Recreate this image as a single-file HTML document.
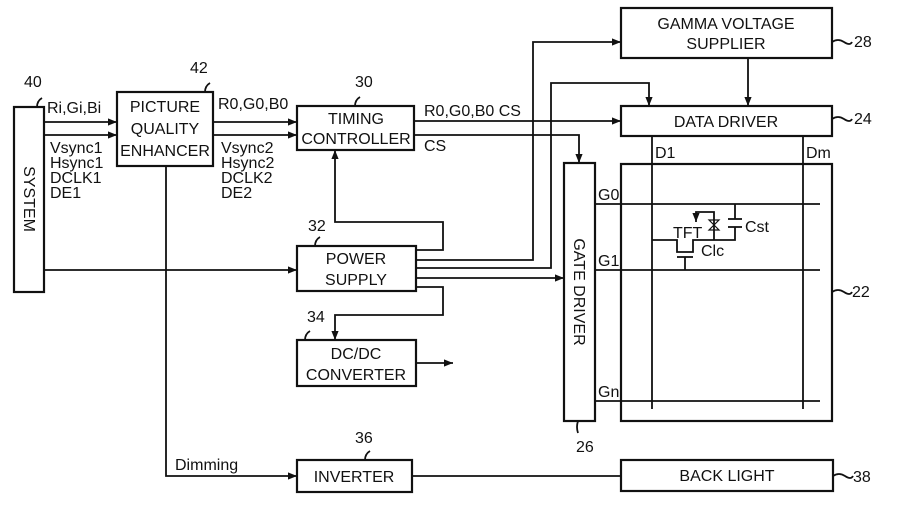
<!DOCTYPE html>
<html><head><meta charset="utf-8"><style>
html,body{margin:0;padding:0;background:#fff;width:907px;height:521px;overflow:hidden}
svg{display:block}
text{font-family:"Liberation Sans",sans-serif;font-size:16px;fill:#111}
</style></head><body>
<svg width="907" height="521" viewBox="0 0 907 521" xmlns="http://www.w3.org/2000/svg">
<defs><marker id="a" viewBox="0 0 10 10" refX="10" refY="5" markerWidth="10" markerHeight="9" markerUnits="userSpaceOnUse" orient="auto"><path d="M0,1 L10,5 L0,9 z" fill="#111"/></marker></defs>
<g fill="none" stroke="#111" stroke-width="2.2">
<rect x="14" y="107" width="30" height="185"/>
<rect x="117" y="92" width="96" height="74"/>
<rect x="297" y="106" width="117" height="44"/>
<rect x="297" y="246" width="119" height="45"/>
<rect x="297" y="340" width="119" height="46"/>
<rect x="297" y="460" width="115" height="32"/>
<rect x="621" y="8" width="211" height="50"/>
<rect x="621" y="106" width="211" height="30"/>
<rect x="564" y="163" width="31" height="258"/>
<rect x="621" y="164" width="211" height="257"/>
<rect x="621" y="460" width="212" height="31"/>
</g>
<g fill="none" stroke="#111" stroke-width="1.8">
<line x1="44" y1="122" x2="117" y2="122" marker-end="url(#a)"/>
<line x1="44" y1="135" x2="117" y2="135" marker-end="url(#a)"/>
<line x1="44" y1="270" x2="297" y2="270" marker-end="url(#a)"/>
<line x1="213" y1="122" x2="297" y2="122" marker-end="url(#a)"/>
<line x1="213" y1="135" x2="297" y2="135" marker-end="url(#a)"/>
<polyline points="166,166 166,476 297,476" marker-end="url(#a)"/>
<line x1="412" y1="476" x2="621" y2="476"/>
<polyline points="416,250 443,250 443,222 335,222 335,150" marker-end="url(#a)"/>
<polyline points="416,260 533,260 533,42 621,42" marker-end="url(#a)"/>
<polyline points="416,268 551,268 551,83 649,83 649,106" marker-end="url(#a)"/>
<line x1="416" y1="278" x2="564" y2="278" marker-end="url(#a)"/>
<polyline points="416,287 443,287 443,315 335,315 335,340" marker-end="url(#a)"/>
<line x1="416" y1="363" x2="453" y2="363" marker-end="url(#a)"/>
<line x1="414" y1="121" x2="621" y2="121" marker-end="url(#a)"/>
<polyline points="414,135 579,135 579,163" marker-end="url(#a)"/>
<line x1="748" y1="58" x2="748" y2="106" marker-end="url(#a)"/>
<line x1="595" y1="204" x2="820" y2="204"/>
<line x1="595" y1="270" x2="820" y2="270"/>
<line x1="595" y1="401" x2="820" y2="401"/>
<line x1="652" y1="136" x2="652" y2="409"/>
<line x1="803" y1="136" x2="803" y2="409"/>
<polyline points="652,240 677,240 677,252 693,252 693,240 735,240 735,227"/>
<line x1="735" y1="219" x2="735" y2="204"/>
<line x1="728" y1="219" x2="742" y2="219"/>
<line x1="728" y1="227" x2="742" y2="227"/>
<line x1="677" y1="257" x2="693" y2="257"/>
<line x1="685" y1="257" x2="685" y2="270"/>
<polyline points="714,240 714,212 696,212 696,222" marker-end="url(#a)"/>
<path d="M709,220 L719,220 L709,230 L719,230 Z" stroke-width="1.2"/>
<path d="M832,42 q6,-4 12,0 t8,0 M832,119 q6,-4 12,0 t8,0 M832,292 q6,-4 12,0 t8,0 M833,476 q6,-4 12,0 t8,0"/>
<path d="M37,107 q0,-6 5,-9 M205,92 q0,-6 5,-9 M355,106 q0,-6 5,-9 M315,246 q0,-6 5,-9 M305,340 q0,-6 5,-9 M365,460 q0,-6 5,-9 M578,421 q-2,6 0,12"/>
</g>
<g>
<text x="24" y="87">40</text><text x="190" y="73">42</text><text x="355" y="87">30</text>
<text x="308" y="231">32</text><text x="307" y="322">34</text><text x="355" y="443">36</text>
<text x="576" y="452">26</text><text x="854" y="47">28</text><text x="854" y="124">24</text>
<text x="852" y="297">22</text><text x="853" y="482">38</text>
<text x="47" y="113">Ri,Gi,Bi</text>
<text x="50" y="153">Vsync1</text><text x="50" y="168">Hsync1</text><text x="50" y="183">DCLK1</text><text x="50" y="198">DE1</text>
<text x="218" y="109">R0,G0,B0</text>
<text x="221" y="153">Vsync2</text><text x="221" y="168">Hsync2</text><text x="221" y="183">DCLK2</text><text x="221" y="198">DE2</text>
<text x="424" y="116">R0,G0,B0 CS</text><text x="424" y="151">CS</text>
<text x="175" y="470">Dimming</text>
<text x="165" y="112" text-anchor="middle">PICTURE</text>
<text x="165" y="134" text-anchor="middle">QUALITY</text>
<text x="165" y="156" text-anchor="middle">ENHANCER</text>
<text x="356" y="124" text-anchor="middle">TIMING</text>
<text x="356" y="144" text-anchor="middle">CONTROLLER</text>
<text x="356" y="264" text-anchor="middle">POWER</text>
<text x="356" y="285" text-anchor="middle">SUPPLY</text>
<text x="356" y="359" text-anchor="middle">DC/DC</text>
<text x="356" y="380" text-anchor="middle">CONVERTER</text>
<text x="354" y="482" text-anchor="middle">INVERTER</text>
<text x="726" y="29" text-anchor="middle">GAMMA VOLTAGE</text>
<text x="726" y="49" text-anchor="middle">SUPPLIER</text>
<text x="726" y="127" text-anchor="middle">DATA DRIVER</text>
<text x="727" y="481" text-anchor="middle">BACK LIGHT</text>
<text x="655" y="158">D1</text><text x="806" y="158">Dm</text>
<text x="598" y="200">G0</text><text x="598" y="266">G1</text><text x="598" y="397">Gn</text>
<text x="673" y="238">TFT</text><text x="701" y="256">Clc</text><text x="745" y="232">Cst</text>
<text transform="translate(24,199) rotate(90)" text-anchor="middle">SYSTEM</text>
<text transform="translate(574,292) rotate(90)" text-anchor="middle">GATE DRIVER</text>
</g>
</svg>
</body></html>
